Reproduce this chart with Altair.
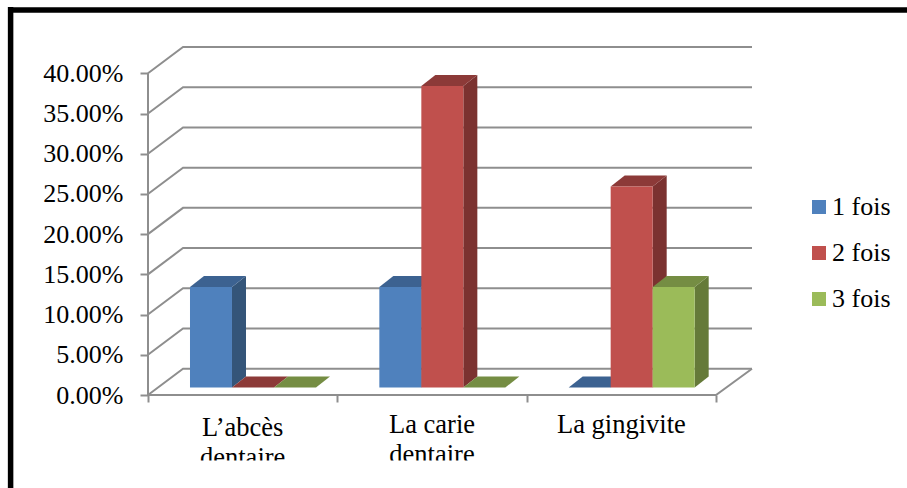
import altair as alt
import pandas as pd

categories = [["L’abcès", "dentaire"], ["La carie", "dentaire"], ["La gingivite"]]
series_names = ["1 fois", "2 fois", "3 fois"]
series_values = [
    [0.125, 0.125, 0.0],
    [0.0, 0.375, 0.25],
    [0.0, 0.0, 0.125],
]
front_colors = ["#4F81BD", "#C0504D", "#9BBB59"]
side_colors = ["#345579", "#7B3230", "#657A39"]
top_colors = ["#3C6291", "#8C3A38", "#758D43"]
y_ticks = [0, 0.05, 0.10, 0.15, 0.20, 0.25, 0.30, 0.35, 0.40]
x_ticks = [0, 1, 2, 3]

FONT = "Liberation Serif"
GRID = "#8E8E8E"

# Oblique projection of the 3-D box, in axis units
X_MAX, Y_MAX = 3.19, 0.4327
WALL_DX, WALL_DY = 0.185, 0.0327
BAR_W = 0.2218
BAR_DX, BAR_DY = 0.074, 0.0137
BAR_BASE = 0.0093

fronts, sides, tops = [], [], []
for s, (name, values) in enumerate(zip(series_names, series_values)):
    for c, v in enumerate(values):
        x0 = c + BAR_W * (1 + s)
        x1 = x0 + BAR_W
        low, high = BAR_BASE, BAR_BASE + v
        fronts.append(dict(series=name, x=x0, x2=x1, y=low, y2=high))
        key = f"{s}-{c}"
        sides.append(dict(bar=key, fill=side_colors[s], x=x1, y=low, y2=high))
        sides.append(dict(bar=key, fill=side_colors[s], x=x1 + BAR_DX, y=low + BAR_DY, y2=high + BAR_DY))
        tops.append(dict(bar=key, fill=top_colors[s], y=high, x=x0, x2=x1))
        tops.append(dict(bar=key, fill=top_colors[s], y=high + BAR_DY, x=x0 + BAR_DX, x2=x1 + BAR_DX))

# Wall and floor lines: each starts on the front axis and runs along the back wall
grid_rows = []
for t in y_ticks:
    pts = [(0, t), (WALL_DX, t + WALL_DY), (X_MAX, t + WALL_DY)]
    for i, (px, py) in enumerate(pts):
        grid_rows.append(dict(line=f"g{t}", i=i, x=px, y=py))
for i, (px, py) in enumerate([(0, 0), (3, 0), (X_MAX, WALL_DY)]):
    grid_rows.append(dict(line="floor", i=i, x=px, y=py))

x_scale = alt.Scale(domain=[0, X_MAX], nice=False, zero=False)
y_scale = alt.Scale(domain=[0, Y_MAX], nice=False, zero=False)

x_enc = alt.X("x:Q", scale=x_scale, title=None,
              axis=alt.Axis(values=x_ticks, labels=False, grid=False, domain=False,
                            ticks=True, tickSize=7, tickWidth=2, tickColor=GRID))
y_enc = alt.Y("y:Q", scale=y_scale, title=None,
              axis=alt.Axis(values=y_ticks, format=".2%", grid=False, domain=False,
                            ticks=True, tickSize=8, tickWidth=2, tickColor=GRID,
                            labelFont=FONT, labelFontSize=26, labelColor="#000000",
                            labelPadding=17))

grid = alt.Chart(pd.DataFrame(grid_rows)).mark_line(color=GRID, strokeWidth=2).encode(
    x=x_enc, y=y_enc, detail="line:N", order="i:Q"
)

wall = alt.Chart(pd.DataFrame({"x": [0], "y": [0], "y2": [y_ticks[-1]]})).mark_rule(
    color=GRID, strokeWidth=2
).encode(x=alt.X("x:Q", scale=x_scale), y=alt.Y("y:Q", scale=y_scale), y2="y2:Q")

side_faces = alt.Chart(pd.DataFrame(sides)).mark_area().encode(
    x=alt.X("x:Q", scale=x_scale),
    y=alt.Y("y:Q", scale=y_scale),
    y2="y2:Q",
    detail="bar:N",
    fill=alt.Fill("fill:N", scale=None),
)

top_faces = alt.Chart(pd.DataFrame(tops)).mark_area(orient="horizontal").encode(
    y=alt.Y("y:Q", scale=y_scale),
    x=alt.X("x:Q", scale=x_scale),
    x2="x2:Q",
    detail="bar:N",
    fill=alt.Fill("fill:N", scale=None),
)

front_faces = alt.Chart(pd.DataFrame(fronts)).mark_rect().encode(
    x=alt.X("x:Q", scale=x_scale),
    x2="x2:Q",
    y=alt.Y("y:Q", scale=y_scale),
    y2="y2:Q",
    color=alt.Color(
        "series:N",
        scale=alt.Scale(domain=series_names, range=front_colors),
        legend=alt.Legend(
            title=None, orient="none", legendX=658, legendY=147,
            symbolType="square", symbolSize=196, symbolStrokeWidth=0,
            labelFont=FONT, labelFontSize=26, labelColor="#000000",
            labelOffset=0, rowPadding=20,
        ),
    ),
)

# Category labels sit on two lines; the second line runs into the lower edge of the label band
label_layers = []
for c, lines in enumerate(categories):
    first_baseline = 41 if c == 0 else 38
    for n, text in enumerate(lines):
        label_layers.append(
            alt.Chart(pd.DataFrame({"x": [c + 0.5], "y": [0], "t": [text]}))
            .mark_text(font=FONT, fontSize=26.5, color="#000000", baseline="alphabetic",
                       align="center", dy=first_baseline + 30 * n)
            .encode(x=alt.X("x:Q", scale=x_scale), y=alt.Y("y:Q", scale=y_scale), text="t:N")
        )

label_cover = alt.Chart(pd.DataFrame({"a": [0]})).mark_rect(color="#FFFFFF").encode(
    x=alt.value(30), x2=alt.value(450), y=alt.value(413.5), y2=alt.value(441)
)

frame_left = alt.Chart(pd.DataFrame({"a": [0]})).mark_rule(color="#000000", strokeWidth=5.5).encode(
    x=alt.value(-137.4), y=alt.value(-40), y2=alt.value(441)
)
frame_top = alt.Chart(pd.DataFrame({"a": [0]})).mark_rule(color="#000000", strokeWidth=5.5).encode(
    y=alt.value(-37), x=alt.value(-140), x2=alt.value(759)
)

chart = alt.layer(
    grid, wall, side_faces, top_faces, front_faces, *label_layers, label_cover, frame_left, frame_top
).resolve_scale(x="shared", y="shared").properties(
    width=604,
    height=348,
    padding=alt.Padding(left=148, top=47, right=155, bottom=93),
    autosize=alt.AutoSizeParams(type="none"),
    background="#FFFFFF",
).configure_view(stroke=None)

chart.save("out.html", embed_options={"renderer": "svg", "actions": False})
